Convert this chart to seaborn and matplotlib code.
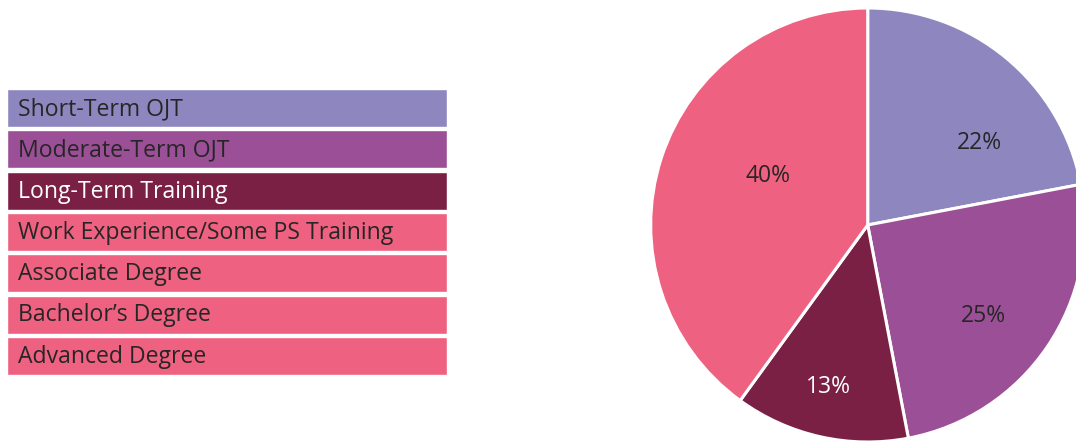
import numpy as np
import matplotlib
matplotlib.use("Agg")
import matplotlib.pyplot as plt
import seaborn as sns
import pandas as pd

# ---- data ----
categories = ["Short-Term OJT", "Moderate-Term OJT", "Long-Term Training",
              "Work Experience/Some PS Training", "Associate Degree",
              "Bachelor\u2019s Degree", "Advanced Degree"]
cat_colors = ["#8E87BF", "#9B4F96", "#7B2045", "#EF6180", "#EF6180", "#EF6180", "#EF6180"]
cat_text_colors = ["#262626", "#262626", "#FFFFFF", "#262626", "#262626", "#262626", "#262626"]

slice_labels = ["Short-Term OJT", "Moderate-Term OJT", "Long-Term Training", "Postsecondary & Degrees"]
slice_values = [22, 25, 13, 40]
slice_colors = ["#8E87BF", "#9B4F96", "#7B2045", "#EF6180"]
slice_text_colors = ["#262626", "#262626", "#FFFFFF", "#262626"]

sns.set_theme(style="white")
plt.rcParams['font.family'] = ['Open Sans', 'DejaVu Sans']

W, H = 1076, 443
fig = plt.figure(figsize=(W / 100, H / 100), dpi=100)
fig.patch.set_facecolor("white")

# ---- left: colored category boxes (horizontal bar chart) ----
axL = fig.add_axes([7 / W, (H - 376.5) / H, 440 / W, 289 / H])
df = pd.DataFrame({"category": categories, "value": [1] * len(categories)})
sns.barplot(data=df, y="category", x="value", hue="category", palette=cat_colors,
            legend=False, ax=axL, width=0.92, saturation=1, orient="h")
axL.set_xlim(0, 1)
axL.set_ylim(len(categories) - 0.5, -0.5)
axL.axis("off")
for i, (lab, tc) in enumerate(zip(categories, cat_text_colors)):
    axL.text(0.025, i + 0.02, lab, color=tc, fontsize=16.6, va="center", ha="left")

# ---- right: pie ----
R = 217
cx, cy = 867.7, 225
axP = fig.add_axes([(cx - R) / W, (H - cy - R) / H, 2 * R / W, 2 * R / H])
wedges, _ = axP.pie(slice_values, colors=slice_colors, startangle=90, counterclock=False,
                    wedgeprops=dict(edgecolor="white", linewidth=2.2), radius=1)
axP.set_xlim(-1, 1)
axP.set_ylim(-1, 1)
axP.set_aspect("equal")
axP.axis("off")
label_dist = [0.64, 0.68, 0.77, 0.51]
label_shift = [-14, -4, -1, -8]
for w, v, tc, d, s in zip(wedges, slice_values, slice_text_colors, label_dist, label_shift):
    ang = np.deg2rad((w.theta1 + w.theta2) / 2 + s)
    axP.text(d * np.cos(ang), d * np.sin(ang), f"{v}%", color=tc, fontsize=16.5,
             ha="center", va="center")

fig.savefig("out.png", dpi=100, facecolor="white")
